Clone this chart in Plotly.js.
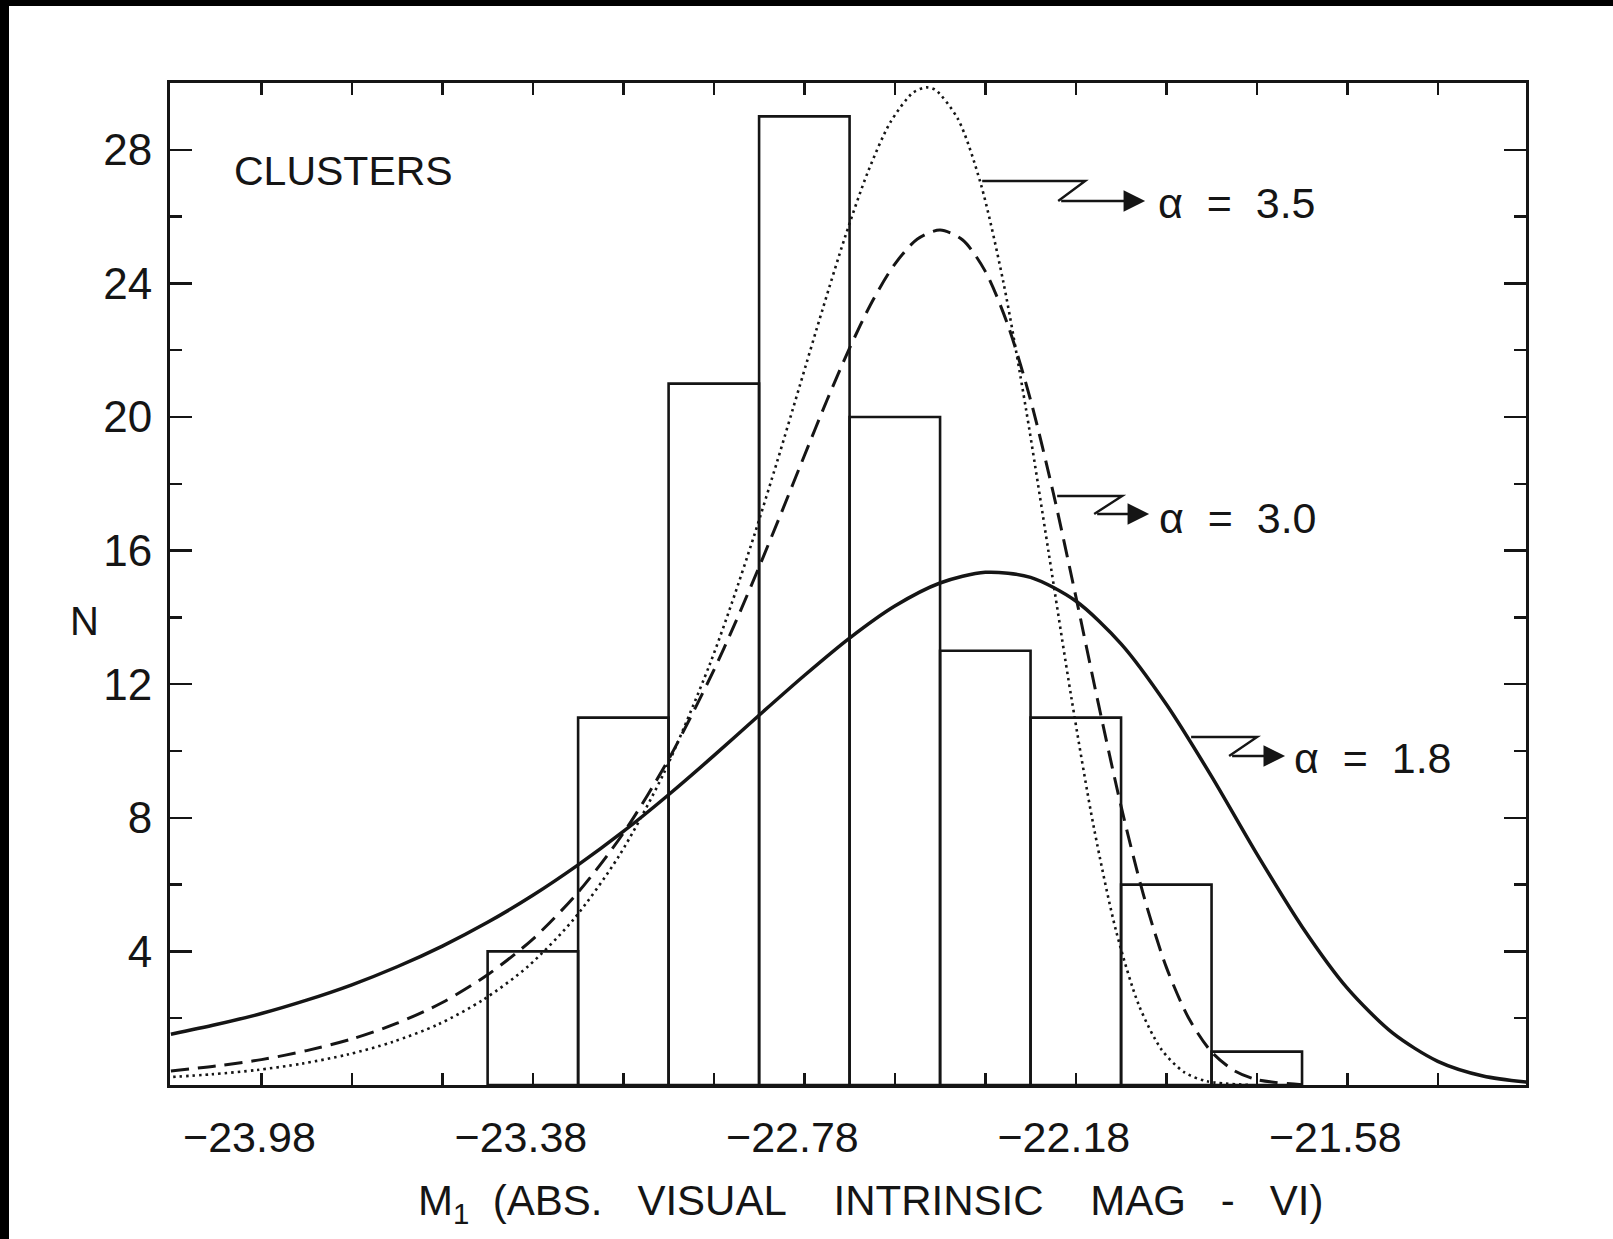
<!DOCTYPE html>
<html>
<head>
<meta charset="utf-8">
<script src="https://cdn.plot.ly/plotly-3.0.1.min.js"></script>
<style>
  html, body { margin: 0; padding: 0; background: #000; width: 1613px; height: 1239px; overflow: hidden; }
  #plot { position: absolute; left: 9px; top: 6px; width: 1604px; height: 1233px; background: #fff; }
</style>
</head>
<body>
<div id="plot"></div>
<script>
// ---- data ----
const binCenters = [-23.38, -23.18, -22.98, -22.78, -22.58, -22.38, -22.18, -21.98, -21.78];
const counts     = [4, 11, 21, 29, 20, 13, 11, 6, 1];

// alpha = 1.8 (solid)
const solidX = [-24.18, -24.08, -23.98, -23.88, -23.78, -23.68, -23.58, -23.48, -23.38, -23.28,
                -23.18, -23.08, -22.98, -22.88, -22.78, -22.68, -22.58, -22.48, -22.38, -22.28,
                -22.18, -22.08, -21.98, -21.88, -21.78, -21.68, -21.58, -21.48, -21.38, -21.28, -21.18];
const solidY = [1.52, 1.81, 2.14, 2.54, 3.00, 3.54, 4.16, 4.87, 5.68, 6.59,
                7.59, 8.69, 9.86, 11.07, 12.26, 13.38, 14.34, 15.03, 15.35, 15.20,
                14.49, 13.21, 11.40, 9.24, 6.92, 4.74, 2.90, 1.56, 0.71, 0.27, 0.08];

// alpha = 3.0 (dashed)
const dashX = [-24.18, -24.08, -23.98, -23.88, -23.78, -23.68, -23.58, -23.48, -23.38, -23.28,
               -23.18, -23.08, -22.98, -22.93, -22.88, -22.83, -22.78, -22.73, -22.68, -22.63,
               -22.58, -22.53, -22.48, -22.43, -22.38, -22.33, -22.28, -22.23, -22.18, -22.13,
               -22.08, -22.03, -21.98, -21.93, -21.88, -21.83, -21.78, -21.68];
const dashY = [0.42, 0.57, 0.76, 1.03, 1.38, 1.85, 2.47, 3.30, 4.37, 5.77,
               7.54, 9.75, 12.42, 13.92, 15.51, 17.16, 18.84, 20.50, 22.06, 23.46,
               24.58, 25.33, 25.60, 25.30, 24.36, 22.75, 20.51, 17.74, 14.63, 11.41,
               8.35, 5.67, 3.53, 1.99, 0.99, 0.43, 0.16, 0.01];

// alpha = 3.5 (dotted)
const dotX = [-24.19, -24.09, -23.99, -23.89, -23.79, -23.69, -23.59, -23.49, -23.39, -23.29,
              -23.19, -23.09, -22.99, -22.94, -22.89, -22.84, -22.79, -22.74, -22.69, -22.64,
              -22.59, -22.54, -22.51, -22.49, -22.44, -22.39, -22.34, -22.29, -22.24, -22.19,
              -22.14, -22.09, -22.04, -21.99, -21.94, -21.89, -21.79];
const dotY = [0.23, 0.32, 0.45, 0.64, 0.91, 1.29, 1.81, 2.55, 3.56, 4.96,
              6.85, 9.35, 12.56, 14.44, 16.49, 18.67, 20.94, 23.21, 25.39, 27.32,
              28.82, 29.71, 29.87, 29.79, 28.91, 26.98, 24.03, 20.23, 15.94, 11.61,
              7.70, 4.56, 2.37, 1.05, 0.38, 0.11, 0.00];

const xTickVals = [-23.98, -23.78, -23.58, -23.38, -23.18, -22.98, -22.78, -22.58, -22.38, -22.18,
                   -21.98, -21.78, -21.58, -21.38];
const xTickText = ["\u221223.98", "", "", "\u221223.38", "", "", "\u221222.78", "", "", "\u221222.18",
                   "", "", "\u221221.58", ""];
const yTickVals = [4, 8, 12, 16, 20, 24, 28];
const yTickText = ["4", "8", "12", "16", "20", "24", "28"];
const yMinorVals = [2, 6, 10, 14, 18, 22, 26];

const curveLabels = ["\u03b1\u00a0\u00a0=\u00a0\u00a03.5", "\u03b1\u00a0\u00a0=\u00a0\u00a03.0", "\u03b1\u00a0\u00a0=\u00a0\u00a01.8"];

// ---- layout geometry (page pixels of the plot frame) ----
const XR = [-24.182, -21.185], YR = [0, 30];
const L = 169.5, R = 1526, T = 83, B = 1085;
const W = R - L, H = B - T;
const pxX = p => XR[0] + (p - L) / W * (XR[1] - XR[0]);   // page px -> data x
const pxY = p => YR[0] + (B - p) / H * (YR[1] - YR[0]);   // page px -> data y
const paperX = p => (p - L) / W;
const paperY = p => (B - p) / H;

const INK = '#151515';
const FONT = 'Liberation Sans, Arial, sans-serif';
const sp = n => '\u00a0'.repeat(n);

const traces = [
  { type: 'bar', x: binCenters, y: counts, width: 0.2,
    marker: { color: 'rgba(0,0,0,0)', line: { color: INK, width: 2.6 } },
    hoverinfo: 'skip', showlegend: false },
  { type: 'scatter', mode: 'lines', x: dotX, y: dotY,
    line: { color: INK, width: 2.6, dash: '2.5px,4px', shape: 'spline', smoothing: 0.8 }, showlegend: false },
  { type: 'scatter', mode: 'lines', x: dashX, y: dashY,
    line: { color: INK, width: 3, dash: '18px,9px', shape: 'spline', smoothing: 0.8 }, showlegend: false },
  { type: 'scatter', mode: 'lines', x: solidX, y: solidY,
    line: { color: INK, width: 3.5, shape: 'spline', smoothing: 0.8 }, showlegend: false }
];

// leader zig-zags (page px): start on curve -> right -> diagonal back -> arrow to label
const leaders = [
  { p: [[982, 181], [1085, 181], [1058, 201]], tip: [1145, 201], label: [1156, 203] },
  { p: [[1057, 496], [1122, 496], [1094, 514]], tip: [1149, 514], label: [1157, 518] },
  { p: [[1191, 737], [1257, 737], [1229, 756]], tip: [1285, 756], label: [1292, 758] }
];

const shapes = leaders.map(ld => ({
  type: 'path', xref: 'x', yref: 'y',
  path: 'M' + ld.p.map(q => pxX(q[0]) + ',' + pxY(q[1])).join(' L'),
  line: { color: INK, width: 2.4 }
}));

const annotations = [];
leaders.forEach((ld, i) => {
  const last = ld.p[ld.p.length - 1];
  annotations.push({
    xref: 'x', yref: 'y', axref: 'x', ayref: 'y',
    x: pxX(ld.tip[0]), y: pxY(ld.tip[1]), ax: pxX(last[0]), ay: pxY(last[1]),
    text: ' ', showarrow: true, arrowhead: 2, arrowsize: 1.8, arrowwidth: 2.4, arrowcolor: INK
  });
  annotations.push({
    xref: 'paper', yref: 'paper', x: paperX(ld.label[0]), y: paperY(ld.label[1]),
    xanchor: 'left', yanchor: 'middle', showarrow: false, text: curveLabels[i],
    font: { family: FONT, size: 43, color: INK }
  });
});

annotations.push({
  xref: 'paper', yref: 'paper', x: paperX(232), y: paperY(171), xanchor: 'left', yanchor: 'middle',
  showarrow: false, text: 'CLUSTERS', font: { family: FONT, size: 41, color: INK }
});
annotations.push({
  xref: 'paper', yref: 'paper', x: paperX(84), y: paperY(621), xanchor: 'center', yanchor: 'middle',
  showarrow: false, text: 'N', font: { family: FONT, size: 40, color: INK }
});
annotations.push({
  xref: 'paper', yref: 'paper', x: paperX(416), y: paperY(1203), xanchor: 'left', yanchor: 'middle',
  showarrow: false,
  text: 'M<sub>1</sub>' + sp(2) + '(ABS.' + sp(3) + 'VISUAL' + sp(4) + 'INTRINSIC' + sp(4) + 'MAG' + sp(3) + '-' + sp(3) + 'VI)',
  font: { family: FONT, size: 42, color: INK }
});

const layout = {
  width: 1604, height: 1233,
  margin: { l: L - 9, r: 1613 - R, t: T - 6, b: 1239 - B, pad: 0 },
  paper_bgcolor: '#fff', plot_bgcolor: '#fff',
  showlegend: false, barmode: 'overlay',
  xaxis: {
    range: XR, tickmode: 'array', tickvals: xTickVals,
    ticktext: xTickText.map(t => t ? t + sp(2) : t),
    ticks: 'inside', ticklen: 12, tickwidth: 2.5, tickcolor: INK,
    showline: true, linewidth: 3, linecolor: INK, mirror: 'allticks',
    showgrid: false, zeroline: false, ticklabelstandoff: 12,
    tickfont: { family: FONT, size: 43, color: INK }
  },
  yaxis: {
    range: YR, tickmode: 'array', tickvals: yTickVals, ticktext: yTickText,
    ticks: 'inside', ticklen: 22, tickwidth: 2.5, tickcolor: INK,
    minor: { tickmode: 'array', tickvals: yMinorVals, ticks: 'inside', ticklen: 12, tickwidth: 2.5, tickcolor: INK, showgrid: false },
    showline: true, linewidth: 3, linecolor: INK, mirror: 'allticks',
    showgrid: false, zeroline: false, ticklabelstandoff: 6,
    tickfont: { family: FONT, size: 44, color: INK }
  },
  shapes: shapes,
  annotations: annotations
};

Plotly.newPlot('plot', traces, layout, { staticPlot: true, displayModeBar: false });
</script>
</body>
</html>
